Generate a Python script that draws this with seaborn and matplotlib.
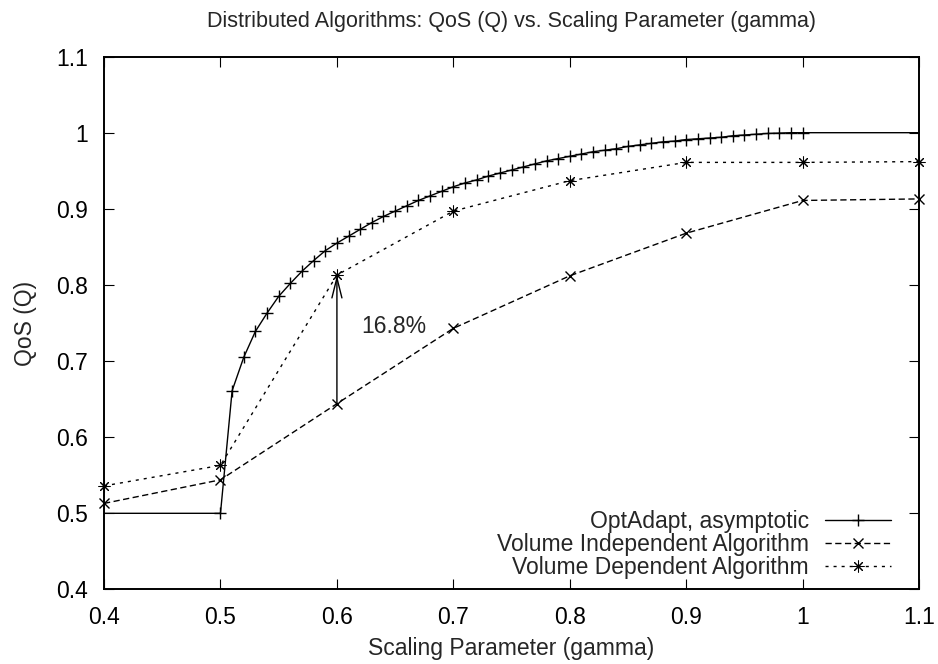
import matplotlib
matplotlib.use("Agg")
import matplotlib.pyplot as plt
from matplotlib.ticker import FuncFormatter, FixedLocator
import seaborn as sns
import pandas as pd

# ---------------- data ----------------
title = "Distributed Algorithms: QoS (Q) vs. Scaling Parameter (gamma)"
xlabel = "Scaling Parameter (gamma)"
ylabel = "QoS (Q)"
series_names = ["OptAdapt, asymptotic",
                "Volume Independent Algorithm",
                "Volume Dependent Algorithm"]

opt_x = [0.40, 0.50, 0.51, 0.52, 0.53, 0.54, 0.55, 0.56, 0.57, 0.58, 0.59,
         0.60, 0.61, 0.62, 0.63, 0.64, 0.65, 0.66, 0.67, 0.68, 0.69,
         0.70, 0.71, 0.72, 0.73, 0.74, 0.75, 0.76, 0.77, 0.78, 0.79,
         0.80, 0.81, 0.82, 0.83, 0.84, 0.85, 0.86, 0.87, 0.88, 0.89,
         0.90, 0.91, 0.92, 0.93, 0.94, 0.95, 0.96, 0.97, 0.98, 0.99,
         1.00, 1.10]
opt_q = [0.500, 0.500, 0.661, 0.705, 0.739, 0.763, 0.785, 0.802, 0.818, 0.832, 0.845,
         0.855, 0.864, 0.873, 0.882, 0.890, 0.897, 0.904, 0.911, 0.917, 0.923,
         0.929, 0.934, 0.938, 0.943, 0.947, 0.951, 0.955, 0.959, 0.963, 0.966,
         0.969, 0.972, 0.975, 0.977, 0.979, 0.982, 0.984, 0.986, 0.988, 0.989,
         0.991, 0.992, 0.993, 0.994, 0.996, 0.997, 0.998, 0.999, 0.9995, 1.000,
         1.000, 1.000]

alg_x = [0.4, 0.5, 0.6, 0.7, 0.8, 0.9, 1.0, 1.1]
vol_indep_q = [0.513, 0.544, 0.644, 0.743, 0.812, 0.868, 0.911, 0.913]
vol_dep_q = [0.536, 0.563, 0.813, 0.897, 0.937, 0.961, 0.961, 0.962]

gap_x = 0.6
gap_label = "16.8%"

xticks = [0.4, 0.5, 0.6, 0.7, 0.8, 0.9, 1.0, 1.1]
yticks = [0.4, 0.5, 0.6, 0.7, 0.8, 0.9, 1.0, 1.1]

# ---------------- style ----------------
sns.set_style("ticks")
plt.rcParams["font.family"] = ["Liberation Sans", "DejaVu Sans"]
plt.rcParams["lines.scale_dashes"] = False
FS = 16.5

fig = plt.figure(figsize=(9.38, 6.64), dpi=100)
ax = fig.add_axes([0.1109, 0.1123, 0.869, 0.8025])

df_opt = pd.DataFrame({"gamma": opt_x, "Q": opt_q})
df_alg = pd.DataFrame({"gamma": alg_x, "vi": vol_indep_q, "vd": vol_dep_q})

common = dict(color="black", markeredgecolor="black", markerfacecolor="black",
              clip_on=False, legend=False)

sns.lineplot(data=df_opt, x="gamma", y="Q", ax=ax, lw=1.0, marker="+",
             markersize=8, markeredgewidth=1.0,
             markevery=list(range(1, len(opt_x) - 1)),
             label=series_names[0], **common)
sns.lineplot(data=df_alg, x="gamma", y="vi", ax=ax, lw=1.0, marker="x",
             markersize=7.5, markeredgewidth=1.0, linestyle=(0, (4.5, 2.5)),
             label=series_names[1], **common)
sns.lineplot(data=df_alg, x="gamma", y="vd", ax=ax, lw=1.0, marker=(8, 2, 0),
             markersize=8.5, markeredgewidth=0.75, linestyle=(0, (2.2, 3.6)),
             label=series_names[2], **common)

i6 = alg_x.index(gap_x)
ax.annotate("", xy=(gap_x, vol_dep_q[i6]), xytext=(gap_x, vol_indep_q[i6]),
            arrowprops=dict(arrowstyle="->,head_length=1.44,head_width=0.36",
                            color="black", lw=1.0, shrinkA=0, shrinkB=0,
                            mutation_scale=10))
ax.text(0.621, 0.746, gap_label, ha="left", va="center", fontsize=FS)

ax.set_xlim(0.4, 1.1)
ax.set_ylim(0.4, 1.1)
ax.xaxis.set_major_locator(FixedLocator(xticks))
ax.yaxis.set_major_locator(FixedLocator(yticks))
fmt = FuncFormatter(lambda v, p: "%g" % round(v, 3))
ax.xaxis.set_major_formatter(fmt)
ax.yaxis.set_major_formatter(fmt)
ax.tick_params(axis="both", which="major", direction="in", length=7.2,
               width=0.8, top=True, right=True, labelsize=FS, colors="black")
ax.tick_params(axis="x", pad=12)
ax.tick_params(axis="y", pad=11.5)
for s in ax.spines.values():
    s.set_visible(True)
    s.set_linewidth(1.4)
    s.set_color("black")

ax.set_xlabel(xlabel, fontsize=FS, labelpad=6)
ax.set_ylabel(ylabel, fontsize=FS, labelpad=14)
ax.set_title(title, fontsize=15.5, pad=21)

handles, labels = ax.get_legend_handles_labels()
leg = ax.legend(handles, labels, loc="lower right", bbox_to_anchor=(0.966, 0.02),
                frameon=False, markerfirst=False, numpoints=1, fontsize=FS,
                handlelength=2.9, handletextpad=0.7, labelspacing=0.0,
                borderpad=0, borderaxespad=0)

fig.savefig("out.png", dpi=100)
